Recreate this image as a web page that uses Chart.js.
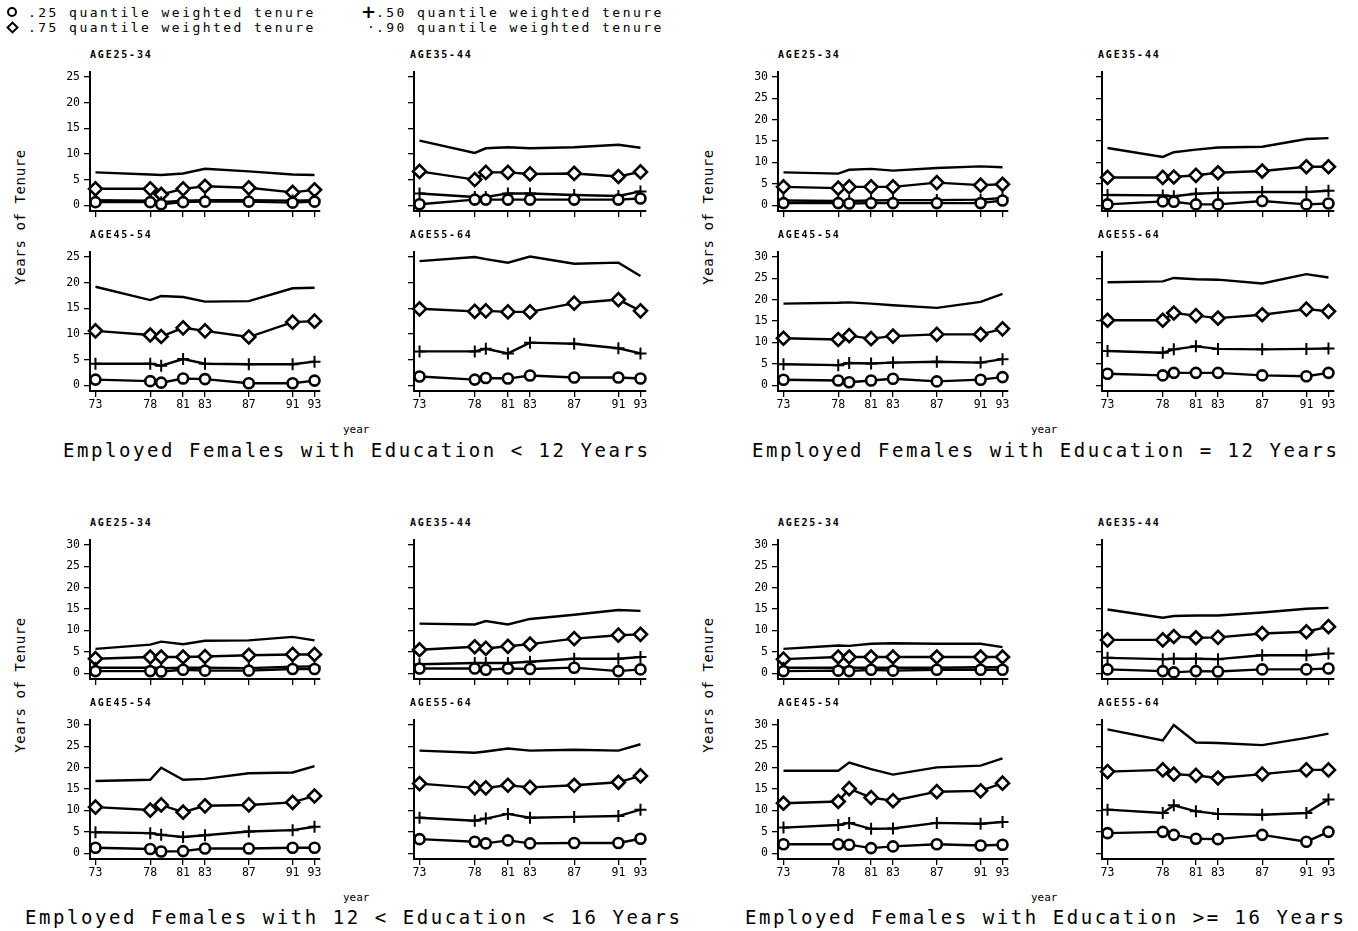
<!DOCTYPE html>
<html>
<head>
<meta charset="utf-8">
<script src="https://cdn.jsdelivr.net/npm/chart.js@4.4.1/dist/chart.umd.min.js"></script>
<style>
  body { margin: 0; background: #fff; width: 1358px; height: 931px; position: relative; overflow: hidden;
         font-family: "DejaVu Sans Mono", "Liberation Mono", monospace; color: #000; }
  .abs { position: absolute; white-space: nowrap; line-height: 1; }
  canvas { position: absolute; }
  .age { font-size: 10px; font-weight: bold; letter-spacing: 1.8px; }
  .ptitle { font-size: 19px; letter-spacing: 2.55px; }
  .xlab { font-size: 11px; }
  .ylab { font-size: 14px; letter-spacing: 0.6px; transform: translate(-50%, -50%) rotate(-90deg); }
  .leg { font-size: 13px; letter-spacing: 2.45px; }
  .mk { position: absolute; }
</style>
</head>
<body>
<script>
// ---- datos ----
const years = [73, 78, 79, 81, 83, 87, 91, 93];
const yearTicks = [73, 78, 81, 83, 87, 91, 93];
const ageGroups = ['AGE25-34', 'AGE35-44', 'AGE45-54', 'AGE55-64'];
const panelTitles = [
  'Employed Females with Education < 12 Years',
  'Employed Females with Education = 12 Years',
  'Employed Females with 12 < Education < 16 Years',
  'Employed Females with Education >= 16 Years'
];
const quantileLabels = ['.25 quantile weighted tenure', '.50 quantile weighted tenure',
                        '.75 quantile weighted tenure', '.90 quantile weighted tenure'];
const yTicks25 = [0, 5, 10, 15, 20, 25];
const yTicks30 = [0, 5, 10, 15, 20, 25, 30];

// Education < 12 (filas = grupos de edad)
const lt12_q25 = [[0.6, 0.6, 0.2, 0.6, 0.7, 0.7, 0.5, 0.7], [0.2, 1.1, 1.1, 1.1, 1.1, 1.1, 1.1, 1.3],
                  [1.1, 0.8, 0.5, 1.3, 1.2, 0.4, 0.4, 0.9], [1.7, 1.1, 1.4, 1.3, 1.9, 1.5, 1.5, 1.3]];
const lt12_q50 = [[1.0, 0.9, 0.6, 0.9, 1.0, 1.0, 0.9, 1.0], [2.3, 1.6, 1.6, 2.3, 2.3, 2.0, 1.8, 2.7],
                  [4.2, 4.2, 3.8, 5.1, 4.2, 4.1, 4.1, 4.6], [6.6, 6.6, 7.1, 6.2, 8.3, 8.1, 7.2, 6.2]];
const lt12_q75 = [[3.2, 3.2, 2.1, 3.2, 3.7, 3.4, 2.5, 3.0], [6.6, 5.0, 6.4, 6.4, 6.1, 6.2, 5.6, 6.5],
                  [10.6, 9.8, 9.5, 11.2, 10.6, 9.4, 12.3, 12.5], [14.9, 14.4, 14.5, 14.3, 14.3, 16.0, 16.7, 14.5]];
const lt12_q90 = [[6.4, 6.0, 5.9, 6.2, 7.1, 6.6, 6.0, 5.9], [12.6, 10.2, 11.1, 11.3, 11.1, 11.3, 11.8, 11.2],
                  [19.2, 16.6, 17.4, 17.2, 16.3, 16.4, 18.9, 19.0], [24.2, 25.0, 24.6, 23.9, 25.1, 23.7, 23.9, 21.3]];

// Education = 12
const eq12_q25 = [[0.5, 0.5, 0.4, 0.5, 0.5, 0.5, 0.5, 1.1], [0.2, 0.9, 0.8, 0.2, 0.2, 1.0, 0.2, 0.4],
                  [1.3, 1.1, 0.7, 1.1, 1.5, 0.9, 1.3, 1.9], [2.7, 2.3, 2.9, 2.9, 2.9, 2.3, 2.1, 2.9]];
const eq12_q50 = [[1.1, 1.0, 1.0, 1.1, 1.2, 1.2, 1.3, 1.7], [2.4, 2.3, 2.1, 2.7, 2.9, 3.1, 3.1, 3.4],
                  [4.9, 4.7, 5.2, 5.1, 5.3, 5.5, 5.3, 6.1], [8.0, 7.6, 8.4, 9.1, 8.5, 8.4, 8.5, 8.6]];
const eq12_q75 = [[4.3, 4.0, 4.3, 4.3, 4.3, 5.3, 4.7, 4.9], [6.5, 6.5, 6.6, 7.0, 7.6, 8.0, 9.0, 9.0],
                  [11.0, 10.7, 11.6, 10.9, 11.5, 11.9, 11.9, 13.2], [15.2, 15.2, 16.9, 16.3, 15.7, 16.5, 17.8, 17.3]];
const eq12_q90 = [[7.7, 7.4, 8.3, 8.5, 8.1, 8.7, 9.1, 8.9], [13.4, 11.3, 12.4, 13.0, 13.5, 13.7, 15.5, 15.7],
                  [19.1, 19.3, 19.4, 19.1, 18.7, 18.1, 19.5, 21.4], [24.1, 24.3, 25.1, 24.8, 24.7, 23.8, 26.0, 25.2]];

// 12 < Education < 16
const mid_q25 = [[0.5, 0.5, 0.4, 0.8, 0.6, 0.6, 1.0, 1.0], [1.1, 1.1, 0.8, 1.1, 1.0, 1.3, 0.5, 0.9],
                 [1.3, 1.0, 0.4, 0.5, 1.1, 1.1, 1.3, 1.3], [3.3, 2.7, 2.3, 3.0, 2.3, 2.4, 2.4, 3.4]];
const mid_q50 = [[1.3, 1.3, 1.2, 1.3, 1.3, 1.2, 1.5, 1.6], [2.1, 2.4, 2.4, 2.4, 2.7, 3.4, 3.4, 3.8],
                 [4.9, 4.7, 4.3, 3.8, 4.2, 5.1, 5.4, 6.2], [8.3, 7.6, 8.1, 9.2, 8.3, 8.5, 8.7, 10.2]];
const mid_q75 = [[3.4, 3.8, 3.8, 3.8, 3.9, 4.2, 4.4, 4.4], [5.5, 6.2, 5.8, 6.3, 6.8, 8.1, 8.9, 9.1],
                 [10.8, 10.1, 11.3, 9.6, 11.1, 11.3, 11.9, 13.4], [16.3, 15.3, 15.3, 15.9, 15.4, 15.9, 16.6, 18.1]];
const mid_q90 = [[5.7, 6.7, 7.4, 6.8, 7.6, 7.7, 8.5, 7.7], [11.6, 11.4, 12.2, 11.4, 12.7, 13.7, 14.8, 14.6],
                 [16.9, 17.2, 20.0, 17.2, 17.4, 18.7, 18.9, 20.4], [24.0, 23.5, 23.8, 24.5, 24.0, 24.2, 24.0, 25.5]];

// Education >= 16
const ge16_q25 = [[0.5, 0.6, 0.5, 0.8, 0.6, 0.8, 0.8, 0.8], [0.9, 0.5, 0.2, 0.5, 0.4, 0.9, 0.9, 1.1],
                  [2.1, 2.1, 2.0, 1.2, 1.6, 2.1, 1.8, 2.0], [4.7, 5.0, 4.3, 3.4, 3.3, 4.3, 2.7, 5.0]];
const ge16_q50 = [[1.3, 1.3, 1.3, 1.3, 1.3, 1.3, 1.4, 1.4], [3.6, 3.3, 3.4, 3.4, 3.3, 4.2, 4.2, 4.6],
                  [6.0, 6.6, 7.1, 5.7, 5.8, 7.1, 6.9, 7.3], [10.2, 9.4, 11.2, 9.8, 9.2, 9.0, 9.4, 12.6]];
const ge16_q75 = [[3.3, 3.8, 3.8, 3.8, 3.8, 3.8, 3.8, 3.8], [7.8, 7.8, 8.6, 8.3, 8.4, 9.3, 9.7, 10.9],
                  [11.7, 12.1, 15.1, 13.0, 12.3, 14.4, 14.6, 16.4], [19.1, 19.5, 18.5, 18.2, 17.6, 18.5, 19.5, 19.5]];
const ge16_q90 = [[5.7, 6.5, 6.4, 6.9, 7.0, 6.9, 6.9, 6.1], [14.9, 13.0, 13.4, 13.5, 13.5, 14.2, 15.1, 15.3],
                  [19.3, 19.3, 21.2, 19.7, 18.4, 20.1, 20.5, 22.2], [29.0, 26.4, 30.0, 25.9, 25.8, 25.3, 27.0, 28.0]];

const panels = [
  { q: [lt12_q25, lt12_q50, lt12_q75, lt12_q90], yTicks: yTicks25 },
  { q: [eq12_q25, eq12_q50, eq12_q75, eq12_q90], yTicks: yTicks30 },
  { q: [mid_q25, mid_q50, mid_q75, mid_q90], yTicks: yTicks30 },
  { q: [ge16_q25, ge16_q50, ge16_q75, ge16_q90], yTicks: yTicks30 }
];

// ---- layout ----
const PANEL_X = [0, 688, 0, 688];
const PANEL_Y = [0, 0, 468, 468];
const COL_L = [90, 414], COL_R = [320, 646];
const ROW_T = [69, 249], AREA_H = 142;
const PADL = 40, PADR = 12, PADT = 8, PADB = 22;
const FONT = '"DejaVu Sans Mono", "Liberation Mono", monospace';

function addText(cls, txt, x, y, extra) {
  const d = document.createElement('div');
  d.className = 'abs ' + cls;
  d.textContent = txt;
  d.style.left = x + 'px';
  d.style.top = y + 'px';
  if (extra) Object.assign(d.style, extra);
  document.body.appendChild(d);
  return d;
}

// estilos de cada cuantil (.25 circulo, .50 cruz, .75 rombo, .90 sin marca)
const qStyles = [
  { pointStyle: 'circle', pointRadius: 5, pointBorderWidth: 2.6 },
  { pointStyle: 'cross', pointRadius: 6, pointBorderWidth: 2 },
  { pointStyle: 'rectRot', pointRadius: 6.5, pointBorderWidth: 2.6 },
  { pointStyle: 'circle', pointRadius: 0, pointBorderWidth: 0 }
];

function subplot(p, a) {
  const col = a % 2, row = Math.floor(a / 2);
  const areaL = PANEL_X[p] + COL_L[col];
  const areaW = COL_R[col] - COL_L[col];
  const areaT = PANEL_Y[p] + ROW_T[row];
  const cv = document.createElement('canvas');
  cv.width = areaW + PADL + PADR;
  cv.height = AREA_H + PADT + PADB;
  cv.style.left = (areaL - PADL) + 'px';
  cv.style.top = (areaT - PADT) + 'px';
  document.body.appendChild(cv);

  addText('age', ageGroups[a], areaL - (col ? 4 : 0), areaT - 19);

  const yT = panels[p].yTicks;
  const yMax = yT[yT.length - 1];
  const datasets = panels[p].q.map((series, qi) => ({
    data: years.map((yr, i) => ({ x: yr, y: series[a][i] })),
    borderColor: '#000',
    borderWidth: 2.4,
    pointBackgroundColor: '#fff',
    pointBorderColor: '#000',
    clip: false,
    ...qStyles[qi]
  }));

  new Chart(cv, {
    type: 'line',
    data: { datasets },
    options: {
      responsive: false,
      animation: false,
      events: [],
      layout: { padding: { top: PADT, right: PADR, left: 0, bottom: 0 } },
      plugins: { legend: { display: false }, tooltip: { enabled: false } },
      scales: {
        x: {
          type: 'linear', min: 72.5, max: 93.5,
          afterBuildTicks: s => { s.ticks = yearTicks.map(v => ({ value: v })); },
          afterFit: s => { s.height = PADB; },
          grid: { drawOnChartArea: false, drawTicks: true, tickLength: 6, color: '#000', lineWidth: 1.3 },
          border: { display: true, color: '#000', width: 2 },
          ticks: {
            autoSkip: false, maxRotation: 0, padding: 1, color: '#000',
            font: { family: FONT, size: 11.5 },
            callback: v => row === 1 ? String(v) : ''
          }
        },
        y: {
          type: 'linear', min: -0.045 * yMax, max: 1.04 * yMax,
          afterBuildTicks: s => { s.ticks = yT.map(v => ({ value: v })); },
          afterFit: s => { s.width = PADL; },
          grid: { drawOnChartArea: false, drawTicks: true, tickLength: 6, color: '#000', lineWidth: 1.3 },
          border: { display: true, color: '#000', width: 2 },
          ticks: {
            padding: 4, color: '#000',
            font: { family: FONT, size: 11.5 },
            callback: v => col === 0 ? String(v) : ''
          }
        }
      }
    }
  });
}

for (let p = 0; p < 4; p++) {
  for (let a = 0; a < 4; a++) subplot(p, a);
  const ox = PANEL_X[p], oy = PANEL_Y[p];
  addText('ylab', 'Years of Tenure', ox + 20, oy + 217);
  addText('xlab', 'year', ox + 343, oy + 424);
}
addText('ptitle', panelTitles[0], 63, 441);
addText('ptitle', panelTitles[1], 752, 441);
addText('ptitle', panelTitles[2], 25, 908);
addText('ptitle', panelTitles[3], 745, 908);

// ---- leyenda ----
function marker(kind, x, y) {
  const m = document.createElement('div');
  m.className = 'mk';
  if (kind === 'circle') {
    Object.assign(m.style, { left: (x - 5) + 'px', top: (y - 5) + 'px', width: '6px', height: '6px',
      border: '2.5px solid #000', borderRadius: '50%' });
  } else if (kind === 'diamond') {
    Object.assign(m.style, { left: (x - 4) + 'px', top: (y - 4) + 'px', width: '5px', height: '5px',
      border: '2.3px solid #000', transform: 'rotate(45deg)' });
  } else if (kind === 'cross') {
    m.textContent = '+';
    Object.assign(m.style, { left: (x - 6) + 'px', top: (y - 10) + 'px', fontSize: '18px', fontWeight: 'bold',
      lineHeight: '20px', fontFamily: 'DejaVu Sans' });
  } else {
    m.textContent = '·';
    Object.assign(m.style, { left: (x - 3) + 'px', top: (y - 8) + 'px', fontSize: '13px', lineHeight: '16px' });
  }
  document.body.appendChild(m);
}
marker('circle', 12, 12);
marker('diamond', 12, 27);
marker('cross', 367, 12);
marker('dot', 370, 27);
addText('leg', quantileLabels[0], 28, 6);
addText('leg', quantileLabels[2], 28, 21);
addText('leg', quantileLabels[1], 376, 6);
addText('leg', quantileLabels[3], 376, 21);
</script>
</body>
</html>
